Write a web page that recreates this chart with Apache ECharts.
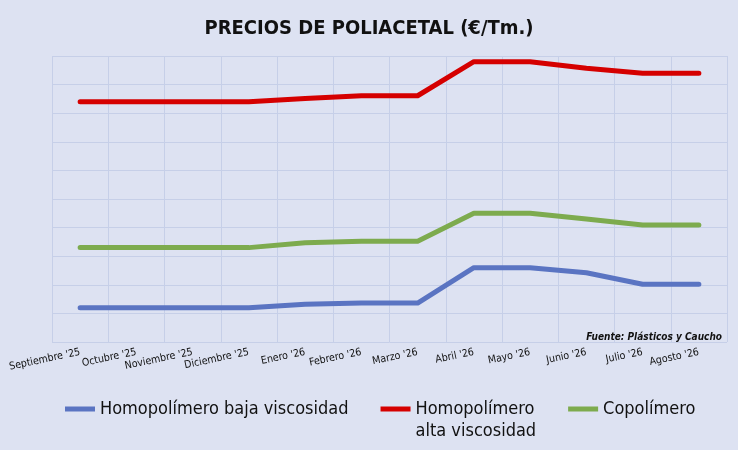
<html>
<head>
<meta charset="utf-8">
<title>Precios de poliacetal</title>
<style>
  html, body { margin: 0; padding: 0; background: #dde2f2; }
  #chart { width: 738px; height: 450px; }
</style>
<script src="https://cdn.jsdelivr.net/npm/echarts@6/dist/echarts.min.js"></script>
</head>
<body>
<div id="chart"></div>
<script>
var months = ["Septiembre '25", "Octubre '25", "Noviembre '25", "Diciembre '25", "Enero '26", "Febrero '26",
              "Marzo '26", "Abril '26", "Mayo '26", "Junio '26", "Julio '26", "Agosto '26"];
// valores estimados en €/Tm (el eje no muestra etiquetas)
var bajaVisc = [1520, 1520, 1520, 1520, 1532, 1536, 1536, 1660, 1660, 1642, 1602, 1602];
var altaVisc = [2240, 2240, 2240, 2240, 2251, 2261, 2261, 2380, 2380, 2357, 2340, 2340];
var copolimero = [1730, 1730, 1730, 1730, 1747, 1752, 1752, 1850, 1850, 1830, 1809, 1809];

var font = "'DejaVu Sans Condensed', 'DejaVu Sans', sans-serif";
var chart = echarts.init(document.getElementById('chart'));

var option = {
    backgroundColor: '#dde2f2',
    textStyle: { fontFamily: font },
    title: [{
        text: 'PRECIOS DE POLIACETAL (€/Tm.)',
        left: 'center',
        top: 14,
        textStyle: { fontSize: 20, fontWeight: 'bold', color: '#111', fontFamily: font }
    }, {
        text: 'Fuente: Plásticos y Caucho',
        right: 11,
        top: 327,
        textStyle: { fontSize: 10, fontWeight: 'bold', fontStyle: 'italic', color: '#111', fontFamily: font }
    }],
    grid: { left: 52, right: 11, top: 56, bottom: 108 },
    legend: {
        left: 65,
        top: 376,
        padding: 0,
        itemWidth: 30,
        itemHeight: 5,
        itemGap: 32,
        icon: 'rect',
        textStyle: { fontSize: 18, lineHeight: 22, color: '#111', fontFamily: font },
        formatter: function (name) {
            // leading empty line keeps the first text line level with the icon
            return name === 'Homopolímero alta viscosidad' ? '\nHomopolímero\nalta viscosidad' : name;
        },
        data: ['Homopolímero baja viscosidad', 'Homopolímero alta viscosidad', 'Copolímero']
    },
    xAxis: {
        type: 'category',
        data: months,
        boundaryGap: true,
        axisLine: { show: false },
        axisTick: { show: false },
        splitLine: { show: true, lineStyle: { color: '#c6cfe8', width: 1 } },
        axisLabel: { rotate: 12, margin: 10, fontSize: 10.5, color: '#111', interval: 0 }
    },
    yAxis: {
        type: 'value',
        min: 1400,
        max: 2400,
        interval: 100,
        axisLabel: { show: false },
        axisLine: { show: false },
        axisTick: { show: false },
        splitLine: { lineStyle: { color: '#c6cfe8', width: 1 } }
    },
    series: [{
        name: 'Homopolímero baja viscosidad',
        type: 'line',
        data: bajaVisc,
        symbol: 'none',
        color: '#5a74c2',
        lineStyle: { width: 5, cap: 'round', join: 'round' }
    }, {
        name: 'Homopolímero alta viscosidad',
        type: 'line',
        data: altaVisc,
        symbol: 'none',
        color: '#d50000',
        lineStyle: { width: 5, cap: 'round', join: 'round' }
    }, {
        name: 'Copolímero',
        type: 'line',
        data: copolimero,
        symbol: 'none',
        color: '#7dab4e',
        lineStyle: { width: 5, cap: 'round', join: 'round' }
    }]
};
chart.setOption(option);
</script>
</body>
</html>
